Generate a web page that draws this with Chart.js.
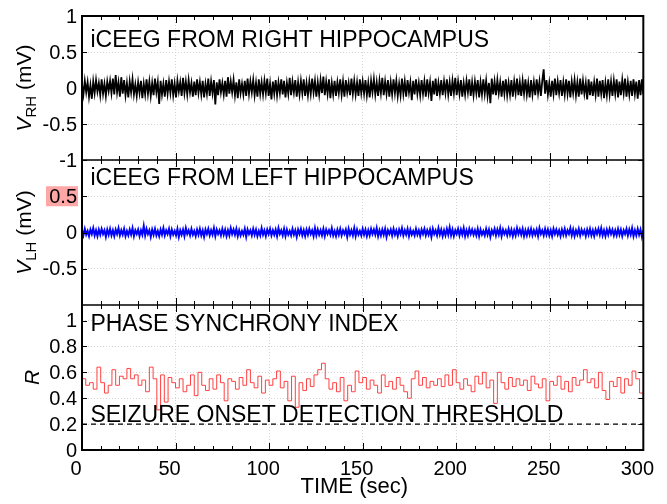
<!DOCTYPE html>
<html>
<head>
<meta charset="utf-8">
<script src="https://cdn.jsdelivr.net/npm/chart.js@4.4.1/dist/chart.umd.min.js"></script>
<style>
  html, body { margin: 0; padding: 0; background: #fff; }
</style>
</head>
<body>
<canvas id="myChart" width="667" height="504"></canvas>
<script>
// sample spacing of the iCEEG traces and of the synchrony index (sec)
const eegStep = 0.75;
const syncStep = 2;

// right hippocampus iCEEG (mV)
const rhSignal = [
  0.05,-0.09,0.10,-0.06,0.08,-0.12,0.04,-0.15,0.09,-0.07,0.11,-0.05,0.07,-0.10,0.12,-0.08,0.06,-0.11,0.09,-0.04,
  0.10,-0.07,0.13,-0.09,0.18,-0.06,0.08,-0.12,0.15,-0.08,0.11,-0.10,0.07,-0.13,0.09,-0.06,0.12,-0.09,0.05,-0.11,
  0.08,-0.07,0.10,-0.14,0.06,-0.09,0.12,-0.08,0.09,-0.11,0.07,-0.10,0.13,-0.06,0.08,-0.22,0.10,-0.09,0.06,-0.12,
  0.11,-0.08,0.09,-0.07,0.12,-0.10,0.06,-0.13,0.10,-0.05,0.08,-0.11,0.14,-0.07,0.09,-0.09,0.11,-0.06,0.07,-0.12,
  0.09,-0.10,0.12,-0.07,0.08,-0.09,0.10,-0.13,0.06,-0.08,0.13,-0.11,0.09,-0.07,0.11,-0.23,0.08,-0.10,0.12,-0.06,
  0.07,-0.09,0.10,-0.12,0.15,-0.08,0.09,-0.06,0.11,-0.10,0.08,-0.14,0.12,-0.07,0.06,-0.09,0.10,-0.11,0.13,-0.08,
  0.09,-0.06,0.11,-0.10,0.07,-0.12,0.12,-0.08,0.08,-0.09,0.10,-0.07,0.13,-0.11,0.06,-0.16,0.09,-0.08,0.11,-0.10,
  0.08,-0.07,0.12,-0.09,0.10,-0.13,0.07,-0.08,0.14,-0.10,0.09,-0.06,0.11,-0.12,0.08,-0.09,0.10,-0.07,0.12,-0.11,
  0.07,-0.10,0.09,-0.08,0.13,-0.06,0.10,-0.12,0.08,-0.09,0.11,-0.07,0.16,-0.10,0.09,-0.08,0.12,-0.14,0.07,-0.09,
  0.10,-0.11,0.08,-0.07,0.12,-0.09,0.09,-0.12,0.11,-0.06,0.07,-0.10,0.13,-0.08,0.10,-0.09,0.08,-0.11,0.12,-0.07,
  0.09,-0.08,0.11,-0.10,0.07,-0.13,0.10,-0.06,0.12,-0.09,0.08,-0.11,0.10,-0.07,0.14,-0.10,0.09,-0.08,0.11,-0.12,
  0.08,-0.09,0.12,-0.07,0.10,-0.11,0.06,-0.10,0.13,-0.08,0.09,-0.12,0.11,-0.06,0.08,-0.17,0.10,-0.09,0.12,-0.08,
  0.07,-0.10,0.11,-0.08,0.09,-0.12,0.12,-0.07,0.08,-0.18,0.10,-0.09,0.13,-0.11,0.07,-0.08,0.11,-0.10,0.09,-0.07,
  0.12,-0.09,0.08,-0.11,0.10,-0.07,0.14,-0.10,0.09,-0.08,0.11,-0.12,0.07,-0.09,0.10,-0.06,0.12,-0.11,0.08,-0.10,
  0.09,-0.07,0.11,-0.13,0.08,-0.09,0.12,-0.08,0.10,-0.11,0.07,-0.21,0.13,-0.09,0.09,-0.10,0.11,-0.07,0.08,-0.12,
  0.10,-0.08,0.12,-0.10,0.07,-0.09,0.11,-0.12,0.09,-0.07,0.13,-0.10,0.08,-0.11,0.10,-0.08,0.12,-0.09,0.07,-0.13,
  0.11,-0.09,0.08,-0.10,0.12,-0.07,0.09,-0.11,0.10,0.26,-0.08,0.11,-0.09,0.07,-0.12,0.10,-0.08,0.13,-0.10,0.09,
  -0.07,0.11,-0.11,0.08,-0.09,0.12,-0.08,0.10,-0.13,0.09,-0.07,0.11,-0.10,0.08,-0.12,0.13,-0.09,0.10,-0.08,0.07,
  -0.16,0.12,-0.10,0.09,-0.11,0.08,-0.09,0.13,-0.12,0.10,-0.08,0.11,-0.14,0.07,-0.10,0.12,-0.09,0.09,-0.11,0.10,
  -0.08,0.12,-0.13,0.09,-0.10,0.11,-0.07,0.13,-0.12,0.08,-0.09,0.10,-0.11,0.12,-0.08,0.09,-0.15,0.11,-0.10,0.12,
  -0.09
];

// left hippocampus iCEEG (mV), middle panel
const lhSignal = [
  0.03,-0.04,0.05,-0.03,0.02,-0.05,0.04,-0.02,0.06,-0.04,0.03,-0.05,0.04,-0.03,0.05,-0.02,0.03,-0.06,0.04,-0.03,
  0.05,-0.04,0.03,-0.05,0.04,-0.02,0.06,-0.04,0.03,-0.03,0.05,-0.05,0.02,-0.04,0.04,-0.03,0.06,-0.05,0.03,-0.02,
  0.04,-0.05,0.03,-0.03,0.09,-0.04,0.05,-0.02,0.03,-0.06,0.04,-0.03,0.05,-0.04,0.02,-0.05,0.04,-0.03,0.06,-0.04,
  0.03,-0.02,0.05,-0.05,0.04,-0.03,0.02,-0.04,0.05,-0.06,0.03,-0.03,0.04,-0.05,0.06,-0.02,0.03,-0.04,0.05,-0.03,
  0.02,-0.05,0.04,-0.03,0.05,-0.04,0.03,-0.06,0.04,-0.02,0.05,-0.04,0.03,-0.03,0.06,-0.05,0.04,-0.02,0.03,-0.04,
  0.05,-0.03,0.04,-0.05,0.03,-0.04,0.06,-0.02,0.04,-0.03,0.05,-0.05,0.03,-0.04,0.02,-0.03,0.05,-0.06,0.04,-0.02,
  0.03,-0.04,0.05,-0.03,0.04,-0.05,0.02,-0.04,0.06,-0.03,0.03,-0.05,0.04,-0.02,0.05,-0.04,0.03,-0.03,0.04,-0.05,
  0.06,-0.02,0.03,-0.04,0.05,-0.05,0.04,-0.03,0.02,-0.04,0.05,-0.03,0.03,-0.06,0.04,-0.02,0.05,-0.04,0.03,-0.05,
  0.04,-0.03,0.05,-0.02,0.03,-0.05,0.06,-0.04,0.04,-0.03,0.03,-0.04,0.05,-0.05,0.04,-0.02,0.03,-0.03,0.06,-0.04,
  0.02,-0.05,0.04,-0.03,0.05,-0.04,0.03,-0.02,0.04,-0.06,0.05,-0.03,0.03,-0.04,0.06,-0.05,0.04,-0.03,0.02,-0.04,
  0.05,-0.03,0.04,-0.05,0.03,-0.04,0.05,-0.02,0.04,-0.03,0.06,-0.05,0.03,-0.04,0.04,-0.03,0.05,-0.06,0.03,-0.02,
  0.04,-0.04,0.05,-0.03,0.03,-0.05,0.04,-0.02,0.06,-0.04,0.03,-0.03,0.05,-0.05,0.04,-0.03,0.02,-0.04,0.05,-0.03,
  0.03,-0.05,0.04,-0.02,0.05,-0.04,0.03,-0.03,0.04,-0.06,0.05,-0.02,0.03,-0.04,0.06,-0.03,0.04,-0.05,0.03,-0.04,
  0.05,-0.03,0.07,-0.04,0.04,-0.05,0.03,-0.02,0.05,-0.04,0.04,-0.03,0.06,-0.05,0.03,-0.04,0.05,-0.02,0.04,-0.03,
  0.03,-0.04,0.05,-0.05,0.04,-0.03,0.02,-0.04,0.05,-0.03,0.04,-0.06,0.03,-0.02,0.05,-0.04,0.04,-0.03,0.06,-0.05,
  0.04,-0.02,0.03,-0.04,0.05,-0.03,0.04,-0.05,0.03,-0.04,0.06,-0.02,0.04,-0.03,0.05,-0.05,0.03,-0.04,0.04,-0.03,
  0.05,-0.04,0.03,-0.03,0.04,-0.05,0.06,-0.02,0.03,-0.04,0.05,-0.03,0.04,-0.04,0.03,-0.05,0.05,-0.02,0.04,-0.03,
  0.03,-0.05,0.04,-0.03,0.05,-0.04,0.03,-0.02,0.06,-0.04,0.04,-0.05,0.03,-0.03,0.05,-0.04,0.04,-0.02,0.03,-0.05,
  0.04,-0.03,0.05,-0.04,0.03,-0.05,0.04,-0.02,0.05,-0.03,0.06,-0.04,0.03,-0.05,0.04,-0.03,0.05,-0.02,0.04,-0.04,
  0.03,-0.04,0.05,-0.03,0.04,-0.05,0.03,-0.02,0.05,-0.04,0.04,-0.03,0.06,-0.05,0.03,-0.04,0.05,-0.03,0.04,-0.06,
  0.03
];

// phase synchrony index R, one value every 2 s
const syncIndex = [
  0.55,0.50,0.52,0.47,0.64,0.52,0.44,0.50,0.62,0.50,0.57,0.55,0.63,0.55,0.58,0.50,0.54,0.45,0.64,0.55,
  0.31,0.58,0.37,0.56,0.52,0.48,0.55,0.45,0.50,0.58,0.42,0.60,0.50,0.46,0.55,0.47,0.58,0.52,0.38,0.55,
  0.53,0.47,0.56,0.50,0.62,0.52,0.48,0.57,0.44,0.54,0.50,0.55,0.61,0.48,0.53,0.38,0.57,0.33,0.52,0.46,
  0.55,0.49,0.58,0.62,0.67,0.55,0.47,0.52,0.45,0.56,0.38,0.50,0.45,0.61,0.52,0.56,0.47,0.54,0.50,0.44,
  0.58,0.49,0.53,0.47,0.56,0.50,0.45,0.40,0.55,0.61,0.50,0.56,0.48,0.53,0.50,0.55,0.49,0.58,0.50,0.62,
  0.52,0.47,0.55,0.50,0.45,0.57,0.51,0.60,0.48,0.54,0.36,0.60,0.52,0.47,0.56,0.49,0.55,0.50,0.54,0.46,
  0.57,0.51,0.48,0.55,0.38,0.53,0.50,0.57,0.47,0.53,0.45,0.56,0.50,0.54,0.62,0.52,0.55,0.48,0.60,0.46,
  0.39,0.53,0.49,0.56,0.44,0.55,0.50,0.61,0.55,0.44,0.36
];

const threshold = 0.2;
const timeTicks = [0, 50, 100, 150, 200, 250, 300];
// tick labels shown on each panel's y axis
const rhTicks = [1, 0.5, 0, -0.5, -1];
const lhTicks = [0.5, 0, -0.5];
const rTicks = [1, 0.8, 0.6, 0.4, 0.2, 0];

const FONT = '"Liberation Sans", Arial, Helvetica, sans-serif';

const rhPoints = rhSignal.map((v, i) => ({ x: i * eegStep, y: v }));
const lhPoints = lhSignal.map((v, i) => ({ x: i * eegStep, y: v }));
const syncPoints = syncIndex.map((v, i) => ({ x: i * syncStep, y: v }));
const threshPoints = [{ x: timeTicks[0], y: threshold }, { x: timeTicks[timeTicks.length - 1], y: threshold }];

// rotated y title, main letter italic with a subscript
function yTitle(ctx, main, sub, rest, cy, baseX) {
    ctx.save();
    ctx.translate(baseX, cy);
    ctx.rotate(-Math.PI / 2);
    const fMain = 'italic 21px ' + FONT;
    const fSub = '15px ' + FONT;
    const fRest = '21px ' + FONT;
    ctx.font = fMain; const w1 = ctx.measureText(main).width;
    ctx.font = fSub; const w2 = sub ? ctx.measureText(sub).width : 0;
    ctx.font = fRest; const w3 = rest ? ctx.measureText(rest).width : 0;
    let x = -(w1 + w2 + w3) / 2;
    ctx.fillStyle = '#000';
    ctx.textAlign = 'left';
    ctx.textBaseline = 'alphabetic';
    ctx.font = fMain; ctx.fillText(main, x, 0); x += w1;
    if (sub) { ctx.font = fSub; ctx.fillText(sub, x, 5); x += w2; }
    if (rest) { ctx.font = fRest; ctx.fillText(rest, x, 0); }
    ctx.restore();
}

function panelList(chart) {
    return [
        [chart.scales.yRH, rhTicks],
        [chart.scales.yLH, lhTicks],
        [chart.scales.yR, rTicks]
    ];
}

// frame, inward ticks, panel texts and axis titles
const panelPlugin = {
    id: 'panels',
    afterDraw(chart) {
        const ctx = chart.ctx;
        const xs = chart.scales.x;
        const ca = chart.chartArea;
        const panels = panelList(chart);

        ctx.save();
        ctx.strokeStyle = '#000';
        ctx.lineWidth = 1;
        panels.forEach(([p, labels]) => {
            for (let t = 0; t <= 300; t += 10) {
                const px = Math.round(xs.getPixelForValue(t)) + 0.5;
                const len = t % 50 === 0 ? 7 : 4;
                ctx.beginPath();
                ctx.moveTo(px, p.top); ctx.lineTo(px, p.top + len);
                ctx.moveTo(px, p.bottom); ctx.lineTo(px, p.bottom - len);
                ctx.stroke();
            }
            labels.forEach(v => {
                const py = Math.round(p.getPixelForValue(v)) + 0.5;
                ctx.beginPath();
                ctx.moveTo(ca.left, py); ctx.lineTo(ca.left + 5, py);
                ctx.moveTo(ca.right, py); ctx.lineTo(ca.right - 5, py);
                ctx.stroke();
            });
        });

        ctx.lineWidth = 1.5;
        [chart.scales.yRH.bottom, chart.scales.yLH.bottom].forEach(y => {
            ctx.beginPath();
            ctx.moveTo(ca.left, y); ctx.lineTo(ca.right, y);
            ctx.stroke();
        });
        ctx.lineWidth = 2;
        ctx.strokeRect(ca.left, ca.top, ca.right - ca.left, ca.bottom - ca.top);
        ctx.restore();

        ctx.save();
        ctx.fillStyle = '#000';
        ctx.textBaseline = 'alphabetic';
        ctx.textAlign = 'left';
        ctx.font = '23px ' + FONT;
        const tx = xs.getPixelForValue(4.5);
        ctx.fillText('iCEEG FROM RIGHT HIPPOCAMPUS', tx, chart.scales.yRH.getPixelForValue(0.57));
        ctx.fillText('iCEEG FROM LEFT HIPPOCAMPUS', tx, chart.scales.yLH.getPixelForValue(0.65));
        ctx.fillText('PHASE SYNCHRONY INDEX', tx, chart.scales.yR.getPixelForValue(0.92));
        ctx.fillText('SEIZURE ONSET DETECTION THRESHOLD', tx, chart.scales.yR.getPixelForValue(0.22));

        ctx.textAlign = 'center';
        ctx.font = '22px ' + FONT;
        ctx.fillText('TIME (sec)', xs.getPixelForValue(145.5), 493);
        ctx.restore();

        const mid = s => (s.top + s.bottom) / 2;
        yTitle(ctx, 'V', 'RH', ' (mV)', mid(chart.scales.yRH), 31);
        yTitle(ctx, 'V', 'LH', ' (mV)', mid(chart.scales.yLH), 31);
        yTitle(ctx, 'R', '', '', mid(chart.scales.yR), 39);
    }
};

// y tick labels, each panel with its own list; a faint marker behind the middle 0.5 to check it
const yLabelPlugin = {
    id: 'yLabels',
    afterDraw(chart) {
        const ctx = chart.ctx;
        const ca = chart.chartArea;
        ctx.save();
        const pm = chart.scales.yLH.getPixelForValue(lhTicks[0]);
        ctx.fillStyle = 'rgba(255,0,0,0.35)';
        ctx.fillRect(46, pm - 10, 32, 20);
        ctx.fillStyle = '#000';
        ctx.font = '20px ' + FONT;
        ctx.textAlign = 'right';
        ctx.textBaseline = 'middle';
        panelList(chart).forEach(([p, labels]) => {
            labels.forEach(v => {
                ctx.fillText(String(v), ca.left - 5, p.getPixelForValue(v) + 1);
            });
        });
        ctx.restore();
    }
};

const gridOpts = { color: '#d4d4d4', lineWidth: 1, drawTicks: false };
const borderOpts = { display: false, dash: [1, 2] };
const tickFont = { family: FONT, size: 20 };
const fixWidth = s => { s.width = 82; };
const useTicks = list => s => { s.ticks = list.map(v => ({ value: v })); };

const config = {
    type: 'line',
    data: {
        datasets: [
            { data: rhPoints, yAxisID: 'yRH', borderColor: '#000', borderWidth: 1.8, pointRadius: 0, tension: 0 },
            { data: lhPoints, yAxisID: 'yLH', borderColor: '#0000ff', borderWidth: 2, pointRadius: 0, tension: 0 },
            { data: syncPoints, yAxisID: 'yR', borderColor: '#ff4040', borderWidth: 1, pointRadius: 0, stepped: true },
            { data: threshPoints, yAxisID: 'yR', borderColor: '#000', borderWidth: 1.3, borderDash: [5, 4], pointRadius: 0 }
        ]
    },
    options: {
        responsive: false,
        animation: false,
        events: [],
        layout: { padding: { top: 16, right: 14, left: 0, bottom: 0 } },
        plugins: { legend: { display: false }, tooltip: { enabled: false } },
        scales: {
            x: {
                type: 'linear', position: 'bottom', min: 0, max: 300,
                afterBuildTicks: useTicks(timeTicks),
                afterFit: s => { s.height = 54; },
                ticks: { color: '#000', font: tickFont, padding: 7, labelOffset: -6, maxRotation: 0, autoSkip: false },
                grid: gridOpts, border: borderOpts
            },
            yR: {
                type: 'linear', position: 'left', stack: 'panels', stackWeight: 145,
                min: 0, max: 1.12,
                afterBuildTicks: useTicks(rTicks),
                ticks: { display: false },
                afterFit: fixWidth,
                grid: gridOpts, border: borderOpts
            },
            yLH: {
                type: 'linear', position: 'left', stack: 'panels', stackWeight: 145,
                min: -1, max: 1,
                afterBuildTicks: useTicks(lhTicks),
                ticks: { display: false },
                afterFit: fixWidth,
                grid: gridOpts, border: borderOpts
            },
            yRH: {
                type: 'linear', position: 'left', stack: 'panels', stackWeight: 144,
                min: -1, max: 1,
                afterBuildTicks: useTicks(rhTicks),
                ticks: { display: false },
                afterFit: fixWidth,
                grid: gridOpts, border: borderOpts
            }
        }
    },
    plugins: [panelPlugin, yLabelPlugin]
};

const myChart = new Chart(document.getElementById('myChart').getContext('2d'), config);
</script>
</body>
</html>
